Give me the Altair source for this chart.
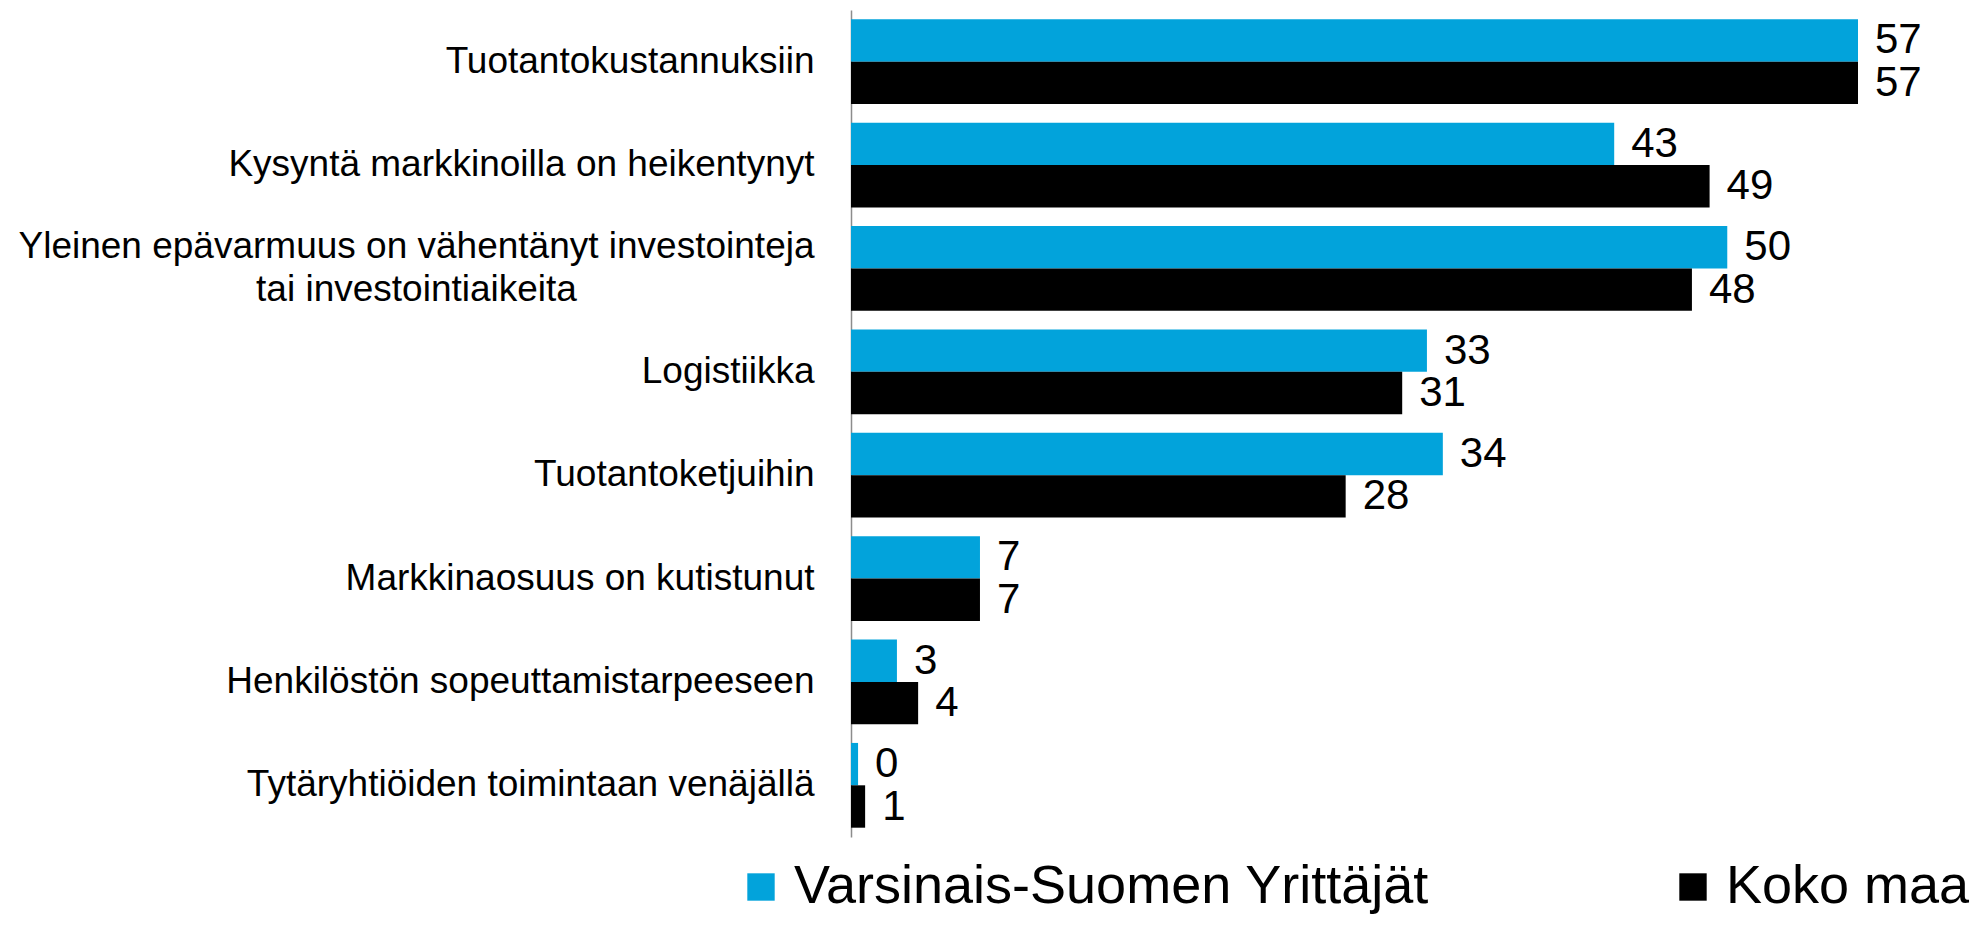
import altair as alt
import pandas as pd

categories = [
    "Tuotantokustannuksiin",
    "Kysyntä markkinoilla on heikentynyt",
    "Yleinen epävarmuus on vähentänyt investointeja|tai investointiaikeita",
    "Logistiikka",
    "Tuotantoketjuihin",
    "Markkinaosuus on kutistunut",
    "Henkilöstön sopeuttamistarpeeseen",
    "Tytäryhtiöiden toimintaan venäjällä",
]
series = ["Varsinais-Suomen Yrittäjät", "Koko maa"]
values_vs = [57.0, 43.2, 49.6, 32.6, 33.5, 7.3, 2.6, 0.4]
values_koko = [57.0, 48.6, 47.6, 31.2, 28.0, 7.3, 3.8, 0.8]
colors = ["#02A3DB", "#000000"]

rows = []
for c, a, b in zip(categories, values_vs, values_koko):
    rows.append({"category": c, "series": series[0], "value": a})
    rows.append({"category": c, "series": series[1], "value": b})
df = pd.DataFrame(rows)

FONT = "Liberation Sans"
MULTI = "indexof(datum.value, '|') >= 0"

y_enc = alt.Y(
    "category:N",
    sort=categories,
    scale=alt.Scale(paddingInner=0.18, paddingOuter=0.09),
    axis=alt.Axis(
        title=None,
        ticks=False,
        domainColor="#8c8c8c",
        domainWidth=1.5,
        labelFont=FONT,
        labelFontSize=37,
        labelColor="#000000",
        labelLimit=1200,
        labelLineHeight=43,
        labelExpr="split(datum.label, '|')",
        labelPadding={"condition": {"test": MULTI, "value": 435}, "value": 37},
        labelAlign={"condition": {"test": MULTI, "value": "center"}, "value": "right"},
        labelOffset={"condition": {"test": MULTI, "value": -21}, "value": 0},
    ),
)
yoff_enc = alt.YOffset("series:N", sort=series, scale=alt.Scale(paddingInner=0, paddingOuter=0))
x_enc = alt.X("value:Q", scale=alt.Scale(domain=[0, 60], nice=False), axis=None)

base = alt.Chart(df)

bars = base.mark_bar().encode(
    x=x_enc,
    y=y_enc,
    yOffset=yoff_enc,
    color=alt.Color(
        "series:N",
        sort=series,
        scale=alt.Scale(domain=series, range=colors),
        legend=alt.Legend(
            title=None,
            orient="none",
            direction="horizontal",
            legendX=-117,
            legendY=850,
            symbolType="square",
            symbolSize=750,
            symbolStrokeWidth=0,
            labelFont=FONT,
            labelFontSize=54,
            labelColor="#000000",
            labelOffset=6,
            labelLimit=1000,
            columnPadding=236,
            padding=0,
        ),
    ),
)

labels = base.mark_text(
    align="left", baseline="middle", dx=17, font=FONT, fontSize=42, color="#000000"
).encode(
    x=x_enc,
    y=y_enc,
    yOffset=yoff_enc,
    text=alt.Text("value:Q", format=".0f"),
)

chart = (
    alt.layer(bars, labels)
    .properties(
        width=1060,
        height=827,
        autosize=alt.AutoSizeParams(type="none"),
        padding={"left": 843, "top": 2, "right": 60, "bottom": 82},
    )
    .configure_view(stroke=None)
)

chart.save("out.html", embed_options={"renderer": "svg", "actions": False})
